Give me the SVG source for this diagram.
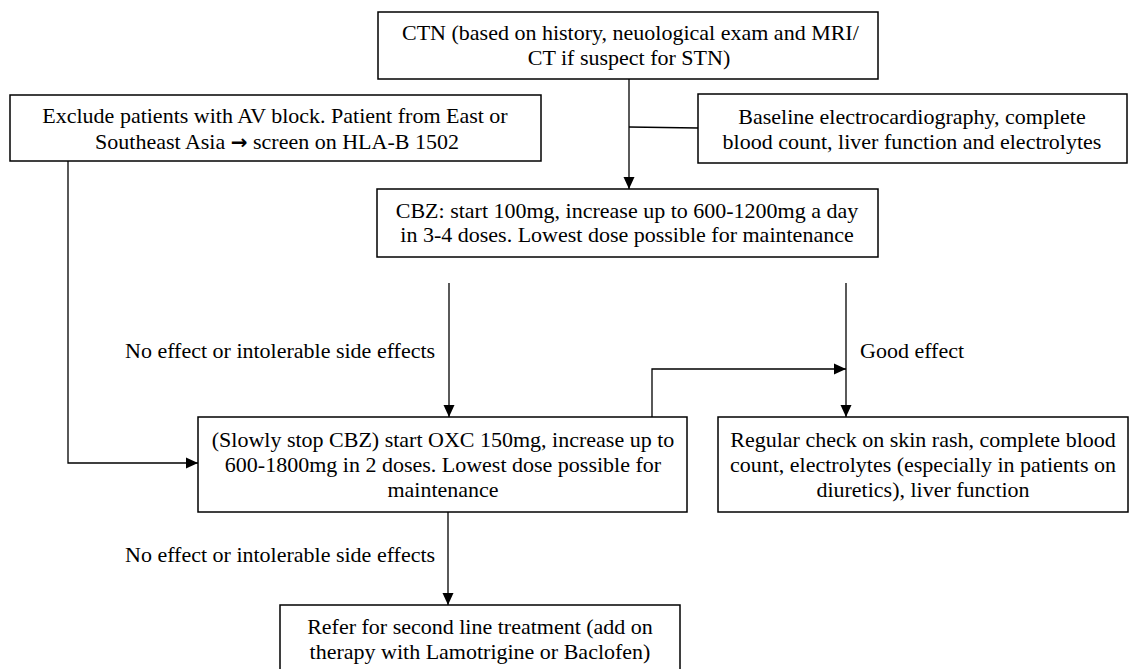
<svg xmlns="http://www.w3.org/2000/svg" width="1132" height="669" viewBox="0 0 1132 669" font-family="Liberation Serif" font-size="22">
<defs>
<marker id="arr" markerWidth="12" markerHeight="12" refX="12" refY="6" orient="auto" markerUnits="userSpaceOnUse">
<path d="M0,0.5 L12,6 L0,11.5 z" fill="#000"/>
</marker>
<style>
rect{fill:#fff;stroke:#000;stroke-width:1.5}
.c{text-anchor:middle}
.ln{fill:none;stroke:#000;stroke-width:1.3}
</style>
</defs>
<rect x="0" y="0" width="1132" height="669" style="fill:#fff;stroke:none"/>
<g id="connectors" font-family="Liberation Serif" font-size="22">
<path class="ln" d="M629,79 V189" marker-end="url(#arr)"/>
<path class="ln" d="M629,127 L698,128"/>
<path class="ln" d="M449,283 V417" marker-end="url(#arr)"/>
<path class="ln" d="M846,283 V417" marker-end="url(#arr)"/>
<path class="ln" d="M652,417 V369 H846" marker-end="url(#arr)"/>
<path class="ln" d="M68,161 V463 H198" marker-end="url(#arr)"/>
<path class="ln" d="M448,512 V605" marker-end="url(#arr)"/>
<text x="125" y="358">No effect or intolerable side effects</text>
<text x="860" y="358">Good effect</text>
<text x="125" y="562">No effect or intolerable side effects</text>
</g>
<g id="ctn" font-family="Liberation Serif" font-size="22">
<rect x="378" y="12" width="500" height="67"/>
<text x="402" y="40">CTN (based on history, neuological exam and MRI/</text>
<text class="c" x="629" y="65">CT if suspect for STN)</text>
</g>
<g id="exclude" font-family="Liberation Serif" font-size="22">
<rect x="10" y="95" width="531" height="66"/>
<text class="c" x="275" y="123">Exclude patients with AV block. Patient from East or</text>
<text class="c" x="277" y="149">Southeast Asia <tspan font-family="DejaVu Sans" font-weight="bold" font-size="20">→</tspan> screen on HLA-B 1502</text>
</g>
<g id="baseline" font-family="Liberation Serif" font-size="22">
<rect x="698" y="94" width="429" height="69"/>
<text class="c" x="912" y="124">Baseline electrocardiography, complete</text>
<text class="c" x="912" y="149">blood count, liver function and electrolytes</text>
</g>
<g id="cbz" font-family="Liberation Serif" font-size="22">
<rect x="377" y="189" width="501" height="68"/>
<text class="c" x="627" y="218">CBZ: start 100mg, increase up to 600-1200mg a day</text>
<text class="c" x="627" y="242">in 3-4 doses. Lowest dose possible for maintenance</text>
</g>
<g id="oxc" font-family="Liberation Serif" font-size="22">
<rect x="198" y="417" width="489" height="95"/>
<text class="c" x="443" y="447">(Slowly stop CBZ) start OXC 150mg, increase up to</text>
<text class="c" x="443" y="472">600-1800mg in 2 doses. Lowest dose possible for</text>
<text class="c" x="443" y="497">maintenance</text>
</g>
<g id="regular" font-family="Liberation Serif" font-size="22">
<rect x="718" y="417" width="410" height="95"/>
<text class="c" x="923" y="447">Regular check on skin rash, complete blood</text>
<text class="c" x="923" y="472">count, electrolytes (especially in patients on</text>
<text class="c" x="923" y="497">diuretics), liver function</text>
</g>
<g id="refer" font-family="Liberation Serif" font-size="22">
<rect x="280" y="605" width="400" height="70"/>
<text class="c" x="480" y="634">Refer for second line treatment (add on</text>
<text class="c" x="480" y="659">therapy with Lamotrigine or Baclofen)</text>
</g>
</svg>
